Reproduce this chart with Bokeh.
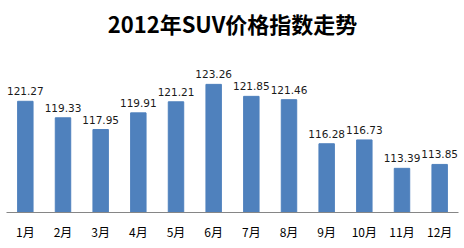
from bokeh.plotting import figure
from bokeh.models import ColumnDataSource, FactorRange, Range1d
from bokeh.core.properties import value
from bokeh.embed import file_html
from bokeh.resources import INLINE

months = ["1月", "2月", "3月", "4月", "5月", "6月", "7月", "8月", "9月", "10月", "11月", "12月"]
index_values = [121.27, 119.33, 117.95, 119.91, 121.21, 123.26, 121.85, 121.46, 116.28, 116.73, 113.39, 113.85]
title_text = "2012年SUV价格指数走势"

labels = ["%.2f" % v for v in index_values]
src = ColumnDataSource(dict(m=months, v=index_values, t=labels))

p = figure(width=464, height=248, output_backend="svg", toolbar_location=None,
           x_range=FactorRange(*months, range_padding=0),
           y_range=Range1d(108.2, 128.18),
           min_border_left=6, min_border_right=6, min_border_bottom=36, min_border_top=42)

p.title.text = title_text
p.title.align = "center"
p.title.text_font = "Noto Sans CJK SC"
p.title.text_font_size = "22px"
p.title.text_font_style = "bold"
p.title.text_color = "#000000"
p.title.standoff = 8

p.vbar(x="m", top="v", bottom=108.2, width=0.41, source=src, color="#4F81BD")
p.text(x="m", y="v", text="t", source=src, text_align="center", text_baseline="bottom",
       y_offset=-6, text_font=value("DejaVu Sans"), text_font_size="10.5px", text_color="#1a1a1a")

p.yaxis.visible = False
p.xgrid.visible = False
p.ygrid.visible = False
p.outline_line_color = None
p.xaxis.axis_line_color = "#868686"
p.xaxis.major_tick_line_color = None
p.xaxis.minor_tick_line_color = None
p.xaxis.major_tick_out = 0
p.xaxis.major_tick_in = 0
p.xaxis.major_label_standoff = 10
p.xaxis.major_label_text_font = "Noto Sans CJK SC"
p.xaxis.major_label_text_font_size = "12px"
p.xaxis.major_label_text_color = "#000000"

open("out.html", "w").write(file_html(p, INLINE))
